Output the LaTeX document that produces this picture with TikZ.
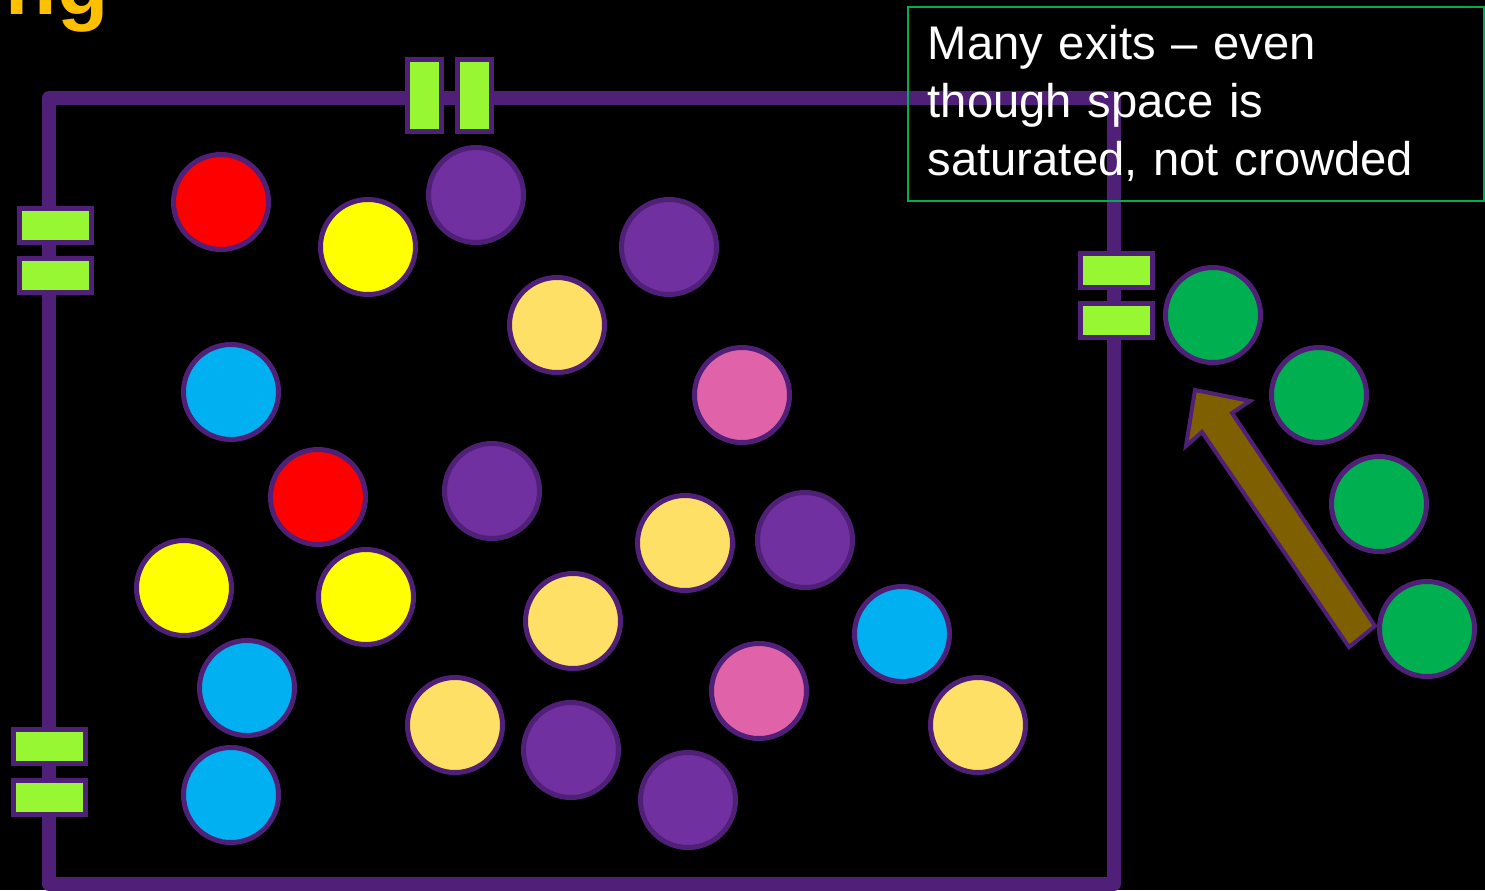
\documentclass[tikz,border=0pt]{standalone}
\usepackage{fontspec}
\setmainfont{Liberation Sans}
\definecolor{wallc}{HTML}{502078}
\definecolor{doorc}{HTML}{97F732}
\definecolor{cred}{HTML}{FF0000}
\definecolor{cyel}{HTML}{FFFF00}
\definecolor{cpur}{HTML}{7030A0}
\definecolor{cly}{HTML}{FFE066}
\definecolor{cblue}{HTML}{00B0F0}
\definecolor{cpink}{HTML}{E063AA}
\definecolor{cgreen}{HTML}{00B050}
\definecolor{arrc}{HTML}{7F6000}
\definecolor{titlec}{HTML}{FFC000}
\begin{document}
\begin{tikzpicture}[x=0.5pt,y=-0.5pt,
  wall/.style={draw=wallc, line width=7pt, line join=round},
  vdoor/.style={draw=wallc, line width=2.5pt, fill=doorc, minimum width=17pt, minimum height=36pt, inner sep=0pt, outer sep=0pt},
  hdoor/.style={draw=wallc, line width=2.5pt, fill=doorc, minimum width=36pt, minimum height=17pt, inner sep=0pt, outer sep=0pt},
  person/.style={circle, draw=wallc, line width=2.5pt, fill=#1, minimum size=47.5pt, inner sep=0pt, outer sep=0pt},
  blockarrow/.style={draw=wallc, line width=2pt, fill=arrc, line join=miter},
  notebox/.style={draw=cgreen, line width=0.75pt, anchor=north west, minimum width=288pt, minimum height=97pt, text width=268pt, inner xsep=10pt, align=left, text=white, font=\fontsize{23.6pt}{29pt}\selectfont}
]
\useasboundingbox[fill=black] (0,0) rectangle (1485,890);

\node[anchor=base east, inner sep=0pt, text=titlec, font=\bfseries\fontsize{42pt}{48pt}\selectfont] (title) at (109,14) {ng};

% room walls
\coordinate (c1) at (49,884);
\coordinate (c2) at (49,98);
\coordinate (c3) at (1114,98);
\coordinate (c4) at (1114,884);
\draw[wall] (c1) -- (c2) -- (c3) -- (c4) -- cycle;

% exits
\node[vdoor] (d1) at (424.5,95.5) {};
\node[vdoor] (d2) at (474.5,95.5) {};
\node[hdoor] (d3) at (55.5,225.5) {};
\node[hdoor] (d4) at (55.5,275.5) {};
\node[hdoor] (d5) at (49.5,746.5) {};
\node[hdoor] (d6) at (49.5,797) {};
\node[hdoor] (d7) at (1116.5,270) {};
\node[hdoor] (d8) at (1116.5,320) {};

% people
\node[person=cred]   (p1)  at (221,202) {};
\node[person=cyel]   (p2)  at (368,247) {};
\node[person=cpur]   (p3)  at (476,195) {};
\node[person=cpur]   (p4)  at (669,247) {};
\node[person=cly]    (p5)  at (557,325) {};
\node[person=cblue]  (p6)  at (231,392) {};
\node[person=cpink]  (p7)  at (742,395) {};
\node[person=cred]   (p8)  at (318,497) {};
\node[person=cpur]   (p9)  at (492,491) {};
\node[person=cly]    (p10) at (685,543) {};
\node[person=cpur]   (p11) at (805,540) {};
\node[person=cyel]   (p12) at (184,588) {};
\node[person=cyel]   (p13) at (366,597) {};
\node[person=cly]    (p14) at (573,621) {};
\node[person=cblue]  (p15) at (902,634) {};
\node[person=cblue]  (p16) at (247,688) {};
\node[person=cpink]  (p17) at (759,691) {};
\node[person=cly]    (p18) at (455,725) {};
\node[person=cpur]   (p19) at (571,750) {};
\node[person=cly]    (p20) at (978,725) {};
\node[person=cblue]  (p21) at (231,795) {};
\node[person=cpur]   (p22) at (688,800) {};
\node[person=cgreen] (g1)  at (1213,315) {};
\node[person=cgreen] (g2)  at (1319,395) {};
\node[person=cgreen] (g3)  at (1379,504) {};
\node[person=cgreen] (g4)  at (1427,629) {};

% block arrow
\draw[blockarrow] (1195,390) -- (1250,401) -- (1232,413) -- (1375,626) -- (1349,647) -- (1202,432) -- (1186,446) -- cycle;

% note
\node[notebox] (note) at (907,6) {Many exits -- even\\ though space is\\ saturated, not crowded};
\end{tikzpicture}
\end{document}
